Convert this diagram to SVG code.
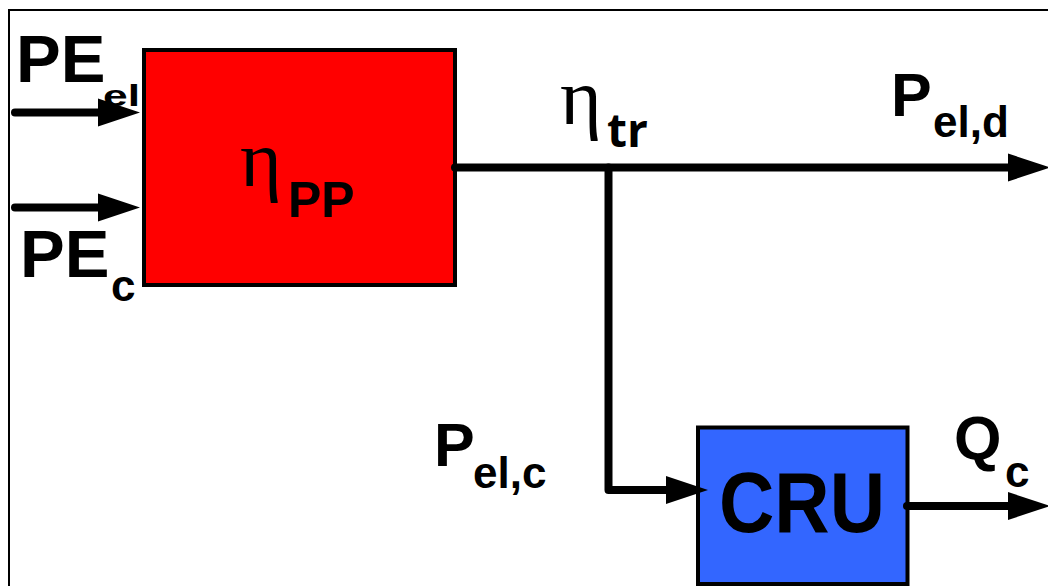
<svg xmlns="http://www.w3.org/2000/svg" width="1048" height="586" viewBox="0 0 1048 586">
<style>
.b{font-family:"Liberation Sans",Arial,sans-serif;font-weight:bold;fill:#000}
.g{font-family:"Liberation Serif","Times New Roman",serif;fill:#000}
.c{fill:none;stroke:#000;stroke-width:8;stroke-linecap:round;stroke-linejoin:round}
.box{stroke:#000;stroke-width:4}
</style>
<defs>
<marker id="ah" markerUnits="userSpaceOnUse" markerWidth="44" markerHeight="30" viewBox="0 -15 44 30" refX="0" refY="0" orient="auto" overflow="visible">
<path d="M0,-14 L42,0 L0,14 Z" fill="#000"/>
</marker>
</defs>
<rect x="0" y="0" width="1048" height="586" fill="#fff"/>
<rect x="9" y="10" width="1060" height="600" fill="none" stroke="#000" stroke-width="2"/>
<g id="pp">
<rect class="box" x="144" y="50" width="311" height="235" fill="#FF0000"/>
<text class="g" x="240" y="186" font-size="80">η</text>
<text class="b" x="288" y="217" font-size="50">PP</text>
</g>
<g id="cru">
<rect class="box" x="698" y="427.5" width="209.5" height="156.5" fill="#3366FF"/>
<text class="b" x="802" y="532" font-size="86" text-anchor="middle" textLength="166" lengthAdjust="spacingAndGlyphs">CRU</text>
</g>
<g id="connectors">
<path class="c" d="M15,112.5 H98" marker-end="url(#ah)"/>
<path class="c" d="M15,207.5 H98" marker-end="url(#ah)"/>
<path class="c" d="M455,167.5 H1008" marker-end="url(#ah)"/>
<path class="c" d="M608.5,167.5 V490 H666" marker-end="url(#ah)"/>
<path class="c" d="M907,506 H1008" marker-end="url(#ah)"/>
</g>
<g id="labels">
<text class="b" x="16" y="82" font-size="67">PE</text>
<text class="b" x="103" y="106" font-size="30" textLength="37" lengthAdjust="spacingAndGlyphs">el</text>
<text class="b" x="20" y="277" font-size="67">PE</text>
<text class="b" x="111" y="301" font-size="44">c</text>
<text class="g" x="560" y="124" font-size="80">η</text>
<text class="b" x="607" y="147" font-size="46" style="font-family:'Open Sans','Liberation Sans',sans-serif">tr</text>
<text class="b" x="891" y="116" font-size="61">P</text>
<text class="b" x="933" y="137" font-size="44">el,d</text>
<text class="b" x="434" y="466" font-size="61">P</text>
<text class="b" x="473" y="488" font-size="44">el,c</text>
<text class="b" x="954" y="459" font-size="61">Q</text>
<text class="b" x="1005" y="487" font-size="44">c</text>
</g>
</svg>
